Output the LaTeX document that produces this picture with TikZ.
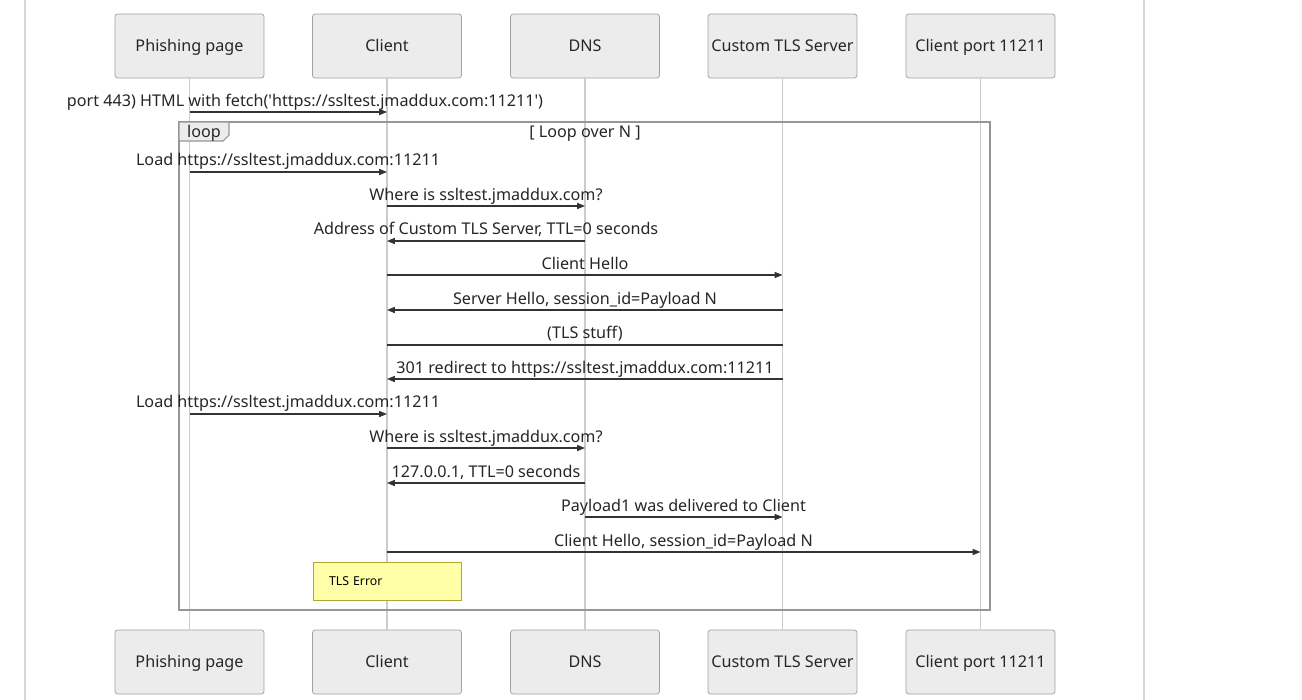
\documentclass[tikz,border=0pt]{standalone}
\usepackage{fontspec}
\setmainfont{Noto Sans}
\usetikzlibrary{arrows.meta,positioning,calc}
\definecolor{actorfill}{RGB}{236,236,236}
\definecolor{actorline}{RGB}{160,160,160}
\definecolor{lifeline}{RGB}{204,204,204}
\definecolor{msgline}{RGB}{51,51,51}
\definecolor{notefill}{RGB}{255,255,168}
\definecolor{noteline}{RGB}{170,170,51}
\definecolor{pageline}{RGB}{210,214,222}
\definecolor{loopline}{RGB}{150,150,150}

\begin{document}
\begin{tikzpicture}[
    x=0.02cm, y=-0.02cm,
    actor/.style={rectangle, draw=actorline, fill=actorfill, rounded corners=1.5pt, minimum width=2.98cm, minimum height=1.28cm, inner xsep=1pt, text height=1.55ex, text depth=0.35ex, font=\fontsize{9.2}{10}\selectfont, text=black!85},
    msg/.style={draw=msgline, line width=0.6pt, -{Triangle[length=4.5pt,width=3.5pt]}},
    msgtext/.style={font=\fontsize{9.2}{10}\selectfont, text=black!85, inner sep=0pt, anchor=base},
    life/.style={draw=lifeline, line width=0.6pt},
    note/.style={rectangle, draw=noteline, fill=notefill, minimum width=2.96cm, minimum height=0.76cm, text width=2.32cm, inner xsep=0.32cm, align=left, font=\fontsize{7}{8}\selectfont}
]
    \useasboundingbox (0,0) rectangle (1302,700);

    % page edges
    \draw[pageline, line width=0.8pt] (25,0) -- (25,700);
    \draw[pageline, line width=0.8pt] (1144,0) -- (1144,700);

    % Actors (top)
    \node[actor] (pp) at (189.5,46) {Phishing page};
    \node[actor] (cl) at (387,46) {Client};
    \node[actor] (dns) at (585,46) {DNS};
    \node[actor] (tls) at (782.5,46) {Custom TLS Server};
    \node[actor] (cp) at (980.5,46) {Client port 11211};

    % Actors (bottom)
    \node[actor] (pp-b) at (189.5,662) {Phishing page};
    \node[actor] (cl-b) at (387,662) {Client};
    \node[actor] (dns-b) at (585,662) {DNS};
    \node[actor] (tls-b) at (782.5,662) {Custom TLS Server};
    \node[actor] (cp-b) at (980.5,662) {Client port 11211};

    % Lifelines
    \foreach \a in {pp,cl,dns,tls,cp}
        \draw[life] (\a.south) -- (\a-b.north);

    % First message
    \node[msgtext] (m1) at (305,106) {port 443) HTML with fetch(\textquotesingle https://ssltest.jmaddux.com:11211\textquotesingle)};
    \draw[msg] (pp |- 0,112) -- (cl |- 0,112);

    % Loop frame
    \draw[loopline, line width=1.2pt] (179,122) rectangle (990,610);
    \draw[loopline, fill=actorfill, line width=0.6pt] (179,122) -- (229,122) -- (229,135) -- (223,141) -- (179,141) -- cycle;
    \node[msgtext] (looplbl) at (204,137) {loop};
    \node[msgtext] (loopcond) at (585,137) {[ Loop over N ]};

    % Messages inside the loop
    \node[msgtext] (m2) at (288,165) {Load https://ssltest.jmaddux.com:11211};
    \draw[msg] (pp |- 0,172) -- (cl |- 0,172);

    \node[msgtext] (m3) at (486,200) {Where is ssltest.jmaddux.com?};
    \draw[msg] (cl |- 0,206) -- (dns |- 0,206);

    \node[msgtext] (m4) at (486,234) {Address of Custom TLS Server, TTL=0 seconds};
    \draw[msg] (dns |- 0,241) -- (cl |- 0,241);

    \node[msgtext] (m5) at (585,269) {Client Hello};
    \draw[msg] (cl |- 0,275) -- (tls |- 0,275);

    \node[msgtext] (m6) at (585,304) {Server Hello, session\_id=Payload N};
    \draw[msg] (tls |- 0,310) -- (cl |- 0,310);

    \node[msgtext] (m7) at (585,338) {(TLS stuff)};
    \draw[draw=msgline, line width=0.6pt] (cl |- 0,345) -- (tls |- 0,345);

    \node[msgtext] (m8) at (585,373) {301 redirect to https://ssltest.jmaddux.com:11211};
    \draw[msg] (tls |- 0,379) -- (cl |- 0,379);

    \node[msgtext] (m9) at (288,407) {Load https://ssltest.jmaddux.com:11211};
    \draw[msg] (pp |- 0,414) -- (cl |- 0,414);

    \node[msgtext] (m10) at (486,442) {Where is ssltest.jmaddux.com?};
    \draw[msg] (cl |- 0,448) -- (dns |- 0,448);

    \node[msgtext] (m11) at (486,477) {127.0.0.1, TTL=0 seconds};
    \draw[msg] (dns |- 0,483) -- (cl |- 0,483);

    \node[msgtext] (m12) at (683.5,511) {Payload1 was delivered to Client};
    \draw[msg] (dns |- 0,517) -- (tls |- 0,517);

    \node[msgtext] (m13) at (683.5,546) {Client Hello, session\_id=Payload N};
    \draw[msg] (cl |- 0,552) -- (cp |- 0,552);

    % Note
    \node[note] (tlserr) at (387,581) {TLS Error};
\end{tikzpicture}
\end{document}
